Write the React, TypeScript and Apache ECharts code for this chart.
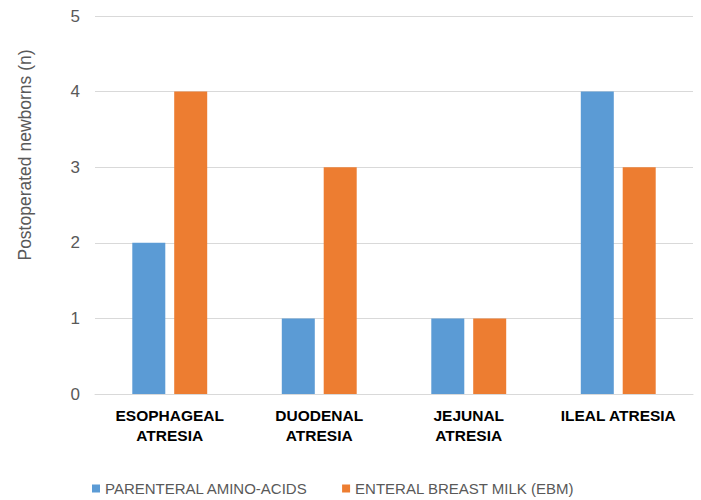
import React, { useEffect, useRef } from "react";
import * as echarts from "echarts";

const categories = ["ESOPHAGEAL\nATRESIA", "DUODENAL\nATRESIA", "JEJUNAL\nATRESIA", "ILEAL ATRESIA"];
const parenteral = [2, 1, 1, 4];
const enteral = [4, 3, 1, 3];
const seriesNames = ["PARENTERAL AMINO-ACIDS", "ENTERAL BREAST MILK (EBM)"];
const yTitle = "Postoperated newborns (n)";

export default function App() {
  const ref = useRef<HTMLDivElement>(null);
  useEffect(() => {
    if (!ref.current) return;
    const chart = echarts.init(ref.current, null, { renderer: "svg" });
    const font = "'Liberation Sans', Arial, sans-serif";
    chart.setOption({
      animation: false,
      textStyle: { fontFamily: font },
      grid: { left: 95, right: 8, top: 16, bottom: 106, containLabel: false },
      legend: {
        bottom: -1,
        left: 87,
        itemWidth: 8,
        itemHeight: 8,
        itemGap: 34,
        icon: "rect",
        textStyle: { fontSize: 15, color: "#595959", fontFamily: font },
        data: seriesNames,
      },
      graphic: [
        {
          type: "text",
          x: 25,
          y: 155,
          rotation: Math.PI / 2,
          style: {
            text: yTitle,
            fontSize: 17.5,
            fill: "#595959",
            fontFamily: font,
            align: "center",
            verticalAlign: "middle",
          },
        },
      ],
      xAxis: {
        type: "category",
        data: categories,
        axisLine: { lineStyle: { color: "#d9d9d9" } },
        axisTick: { show: false },
        axisLabel: {
          fontSize: 15.5,
          fontWeight: "bold",
          color: "#000",
          lineHeight: 20,
          margin: 11,
          interval: 0,
          fontFamily: font,
        },
      },
      yAxis: {
        type: "value",
        min: 0,
        max: 5,
        interval: 1,
        axisLine: { show: false },
        axisTick: { show: false },
        splitLine: { lineStyle: { color: "#d9d9d9" } },
        axisLabel: { fontSize: 17, color: "#595959", margin: 15, fontFamily: font },
      },
      series: [
        {
          name: seriesNames[0],
          type: "bar",
          data: parenteral,
          barWidth: 33,
          barGap: "27%",
          itemStyle: { color: "#5B9BD5" },
        },
        {
          name: seriesNames[1],
          type: "bar",
          data: enteral,
          barWidth: 33,
          itemStyle: { color: "#ED7D31" },
        },
      ],
    });
    return () => chart.dispose();
  }, []);
  return (
    <div
      ref={ref}
      style={{ position: "fixed", left: 0, top: 0, width: 701, height: 500, background: "#fff" }}
    />
  );
}
